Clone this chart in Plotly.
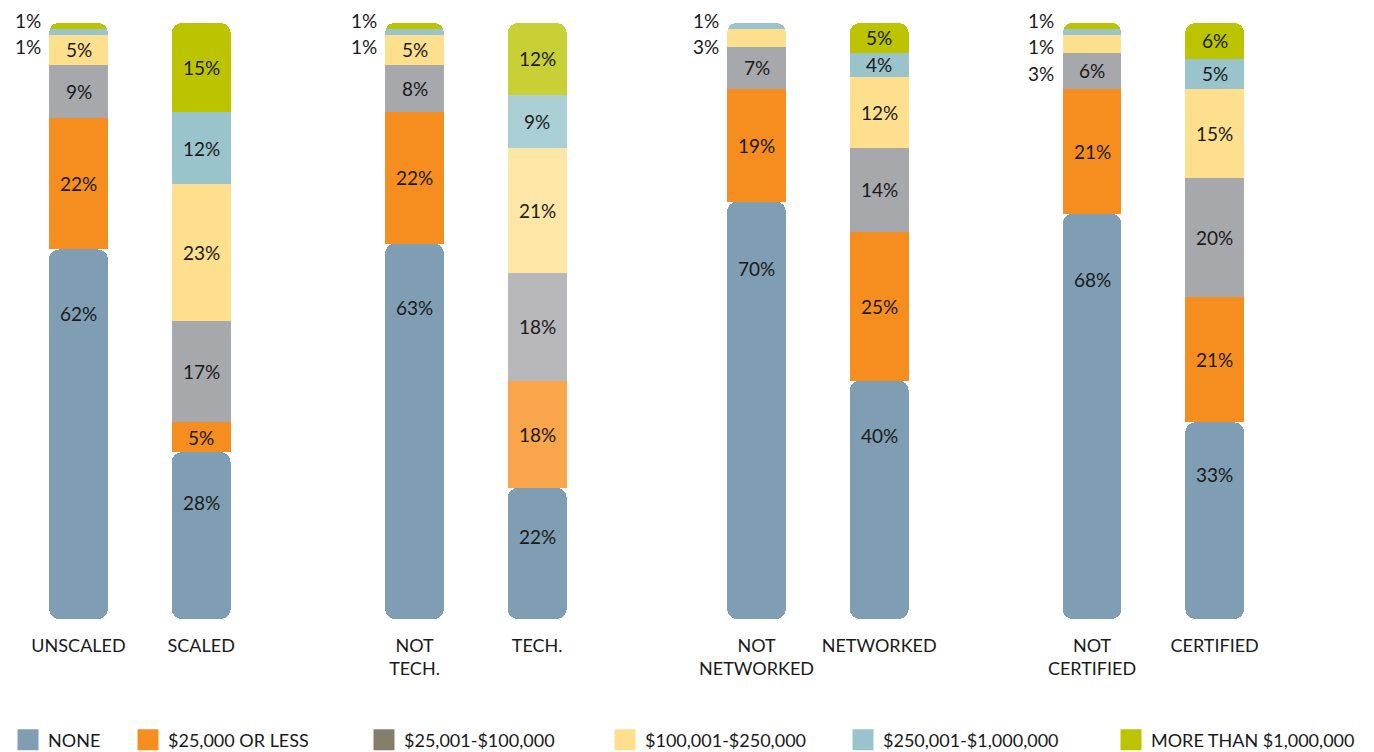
import plotly.graph_objects as go

# ---------------- data ----------------
groups = [
    ["UNSCALED", "SCALED"],
    ["NOT<br>TECH.", "TECH."],
    ["NOT<br>NETWORKED", "NETWORKED"],
    ["NOT<br>CERTIFIED", "CERTIFIED"],
]
series_names = ["NONE", "$25,000 OR LESS", "$25,001-$100,000",
                "$100,001-$250,000", "$250,001-$1,000,000", "MORE THAN $1,000,000"]

# values per bar (in order of groups flattened)
none_vals      = [62, 28, 63, 22, 70, 40, 68, 33]
le25k_vals     = [22, 5, 22, 18, 19, 25, 21, 21]
k25_100_vals   = [9, 17, 8, 18, 7, 14, 6, 20]
k100_250_vals  = [5, 23, 5, 21, 3, 12, 3, 15]
k250_1m_vals   = [1, 12, 1, 9, 1, 4, 1, 5]
gt1m_vals      = [1, 15, 1, 12, 0, 5, 1, 6]

# ---------------- style ----------------
base_colors = ["#7F9EB3", "#F68E1F", "#A7A8AC", "#FEDF8E", "#99C4CB", "#BCC400"]
light_colors = ["#7F9EB3", "#F9A54C", "#B8B8BA", "#FEE6A6", "#AAD0D5", "#C8D035"]
legend_colors = ["#7F9EB3", "#F68E1F", "#877D6B", "#FEDF8E", "#99C4CB", "#BCC400"]
light_bar = 3  # index of the "TECH." bar drawn in lighter tones

FONT = "Lato, 'Source Sans Pro', Roboto, sans-serif"
TXT = "#1a1a1a"
PAGE_OFF = 8                      # default page margin around the figure
W, H = 1374 - PAGE_OFF, 752 - PAGE_OFF
TOP, BOTTOM = 23 - PAGE_OFF, 619 - PAGE_OFF
group_starts = [g - PAGE_OFF - 2 for g in (14.5, 350.5, 692.5, 1028)]
group_w = 250
RADIUS = 10
LABEL_SIZE = 19
NONE_LABEL_RISE = 0.064   # fraction of the NONE segment the label sits below its top (plus shift)

stack_series = [le25k_vals, k25_100_vals, k100_250_vals, k250_1m_vals, gt1m_vals]

fig = go.Figure()
annotations = []

for g, cats in enumerate(groups):
    xa = "x" if g == 0 else f"x{g+1}"
    idx = [2 * g, 2 * g + 1]

    def colors_for(s):
        return [light_colors[s] if i == light_bar else base_colors[s] for i in idx]

    # transparent placeholder so the stack starts above the NONE segment
    fig.add_trace(go.Bar(x=cats, y=[none_vals[i] for i in idx], xaxis=xa, yaxis="y",
                         marker=dict(color="rgba(0,0,0,0)", line=dict(width=0)),
                         showlegend=False, hoverinfo="skip"))
    for s, vals in enumerate(stack_series, start=1):
        fig.add_trace(go.Bar(x=cats, y=[vals[i] for i in idx], xaxis=xa, yaxis="y",
                             marker=dict(color=colors_for(s), line=dict(width=0)),
                             name=series_names[s], showlegend=False))
    # NONE segment drawn downward from its top, so the bottom corners are rounded
    fig.add_trace(go.Bar(x=cats, y=[-none_vals[i] for i in idx],
                         base=[none_vals[i] for i in idx], xaxis=xa, yaxis="y",
                         marker=dict(color=colors_for(0), line=dict(width=0),
                                     cornerradius=RADIUS),
                         name=series_names[0], showlegend=False))

    # labels
    for j, i in enumerate(idx):
        cat = cats[j]
        annotations.append(dict(x=cat, y=none_vals[i] * (1 - NONE_LABEL_RISE),
                                xref=xa, yref="y",
                                text=f"{none_vals[i]}%", showarrow=False,
                                yshift=-40, font=dict(size=LABEL_SIZE, color=TXT, family=FONT)))
        cum = none_vals[i]
        small = []
        for vals in stack_series:
            v = vals[i]
            if v >= 4:
                annotations.append(dict(x=cat, y=cum + v / 2, xref=xa, yref="y",
                                        text=f"{v}%", showarrow=False,
                                        font=dict(size=LABEL_SIZE, color=TXT, family=FONT)))
            elif v > 0:
                small.append(v)
            cum += v
        # small segments labelled to the left, listed from the top down
        for k, v in enumerate(reversed(small)):
            annotations.append(dict(x=cat, y=100, xref=xa, yref="y",
                                    text=f"{v}%", showarrow=False,
                                    xanchor="right", xshift=-36,
                                    yshift=3 - 26.5 * k,
                                    font=dict(size=LABEL_SIZE, color=TXT, family=FONT)))

# legend entries (one legend box each, for spacing)
legend_x_px = [0, 120, 356, 597, 835, 1103]
legend_y = (H - (740 - PAGE_OFF)) / H
for s, name in enumerate(series_names):
    lg = "legend" if s == 0 else f"legend{s+1}"
    fig.add_trace(go.Scatter(x=[None], y=[None], mode="markers", name=name,
                             xaxis="x", yaxis="y", legend=lg,
                             marker=dict(symbol="square", size=16, color=legend_colors[s],
                                         line=dict(color=legend_colors[s], width=5))))

layout = dict(
    width=W, height=H,
    paper_bgcolor="white", plot_bgcolor="white",
    margin=dict(l=0, r=0, t=TOP, b=H - BOTTOM, autoexpand=False),
    barmode="stack", barcornerradius=RADIUS, bargap=0.52,
    font=dict(family=FONT, size=18, color=TXT),
    yaxis=dict(range=[0, 100], visible=False, fixedrange=True),
    annotations=annotations,
    showlegend=True,
)
for g in range(4):
    key = "xaxis" if g == 0 else f"xaxis{g+1}"
    x0 = group_starts[g] / W
    x1 = (group_starts[g] + group_w) / W
    layout[key] = dict(domain=[x0, x1], anchor="y", showgrid=False, zeroline=False,
                       showline=False, ticks="", ticklabelstandoff=14,
                       tickfont=dict(size=18, color=TXT, family=FONT), fixedrange=True)
for s in range(6):
    lg = "legend" if s == 0 else f"legend{s+1}"
    layout[lg] = dict(x=legend_x_px[s] / W, xref="container", xanchor="left",
                      y=legend_y, yref="container", yanchor="middle", orientation="h",
                      bgcolor="rgba(0,0,0,0)", borderwidth=0,
                      font=dict(size=18, color=TXT, family=FONT))

fig.update_layout(**layout)
fig.write_html("out.html")
